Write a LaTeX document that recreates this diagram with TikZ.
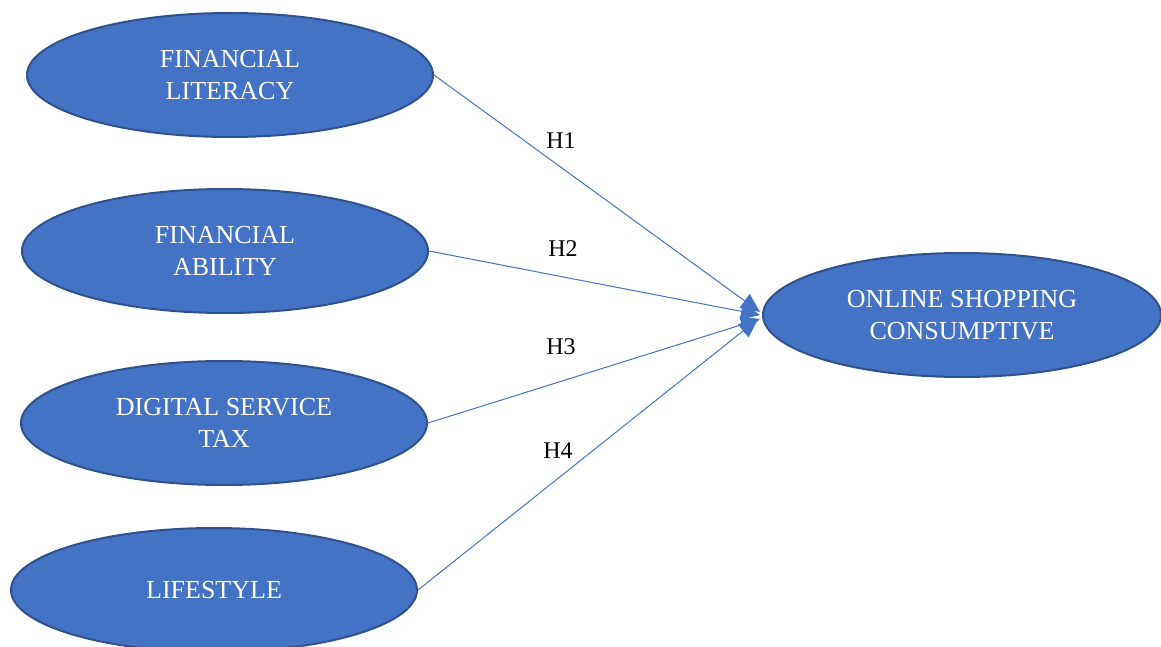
\documentclass[tikz,border=0pt]{standalone}
\usepackage{fontspec}
\setmainfont{Liberation Serif}
\usetikzlibrary{arrows.meta,shapes.geometric}
\definecolor{boxblue}{HTML}{4472C4}
\definecolor{boxline}{HTML}{2F528F}
\tikzset{
	construct/.style={ellipse, draw=boxline, line width=1pt, fill=boxblue, text=white, align=center, inner sep=0pt, minimum width=203pt, minimum height=62pt, font=\fontsize{13}{16}\selectfont},
	hyparrow/.style={draw=boxblue, line width=0.5pt, -{Triangle[length=9.5pt,width=8.5pt]}},
	hyplabel/.style={font=\fontsize{12}{14}\selectfont}
}

\begin{document}
\begin{tikzpicture}[x=0.5pt,y=-0.5pt]
			%%%%% START %%%%%
			\useasboundingbox (0,0) rectangle (1161,647);
			
			\node[construct] (literacy) at (230,75) {FINANCIAL\\LITERACY};
			\node[construct] (ability) at (225,251) {FINANCIAL\\ABILITY};
			\node[construct] (tax) at (224,423) {DIGITAL SERVICE\\TAX};
			\node[construct] (lifestyle) at (214,590) {LIFESTYLE};
			
			\node[construct, minimum width=199pt] (shopping) at (962,315) {ONLINE SHOPPING\\CONSUMPTIVE};
			
			\draw[hyparrow] (literacy.east) -- ([xshift=-1pt,yshift=1.5pt]shopping.west);
			\draw[hyparrow] (ability.east) -- ([xshift=-1pt]shopping.west);
			\draw[hyparrow] (tax.east) -- ([xshift=-1pt,yshift=-2pt]shopping.west);
			\draw[hyparrow] (lifestyle.east) -- ([xshift=-2pt,yshift=-2pt]shopping.west);
			
			\node[hyplabel] (h1) at (561,141) {H1};
			\node[hyplabel] (h2) at (563,249) {H2};
			\node[hyplabel] (h3) at (561,347) {H3};
			\node[hyplabel] (h4) at (558,451) {H4};
			
			%%%%% END %%%%%
\end{tikzpicture}
\end{document}
